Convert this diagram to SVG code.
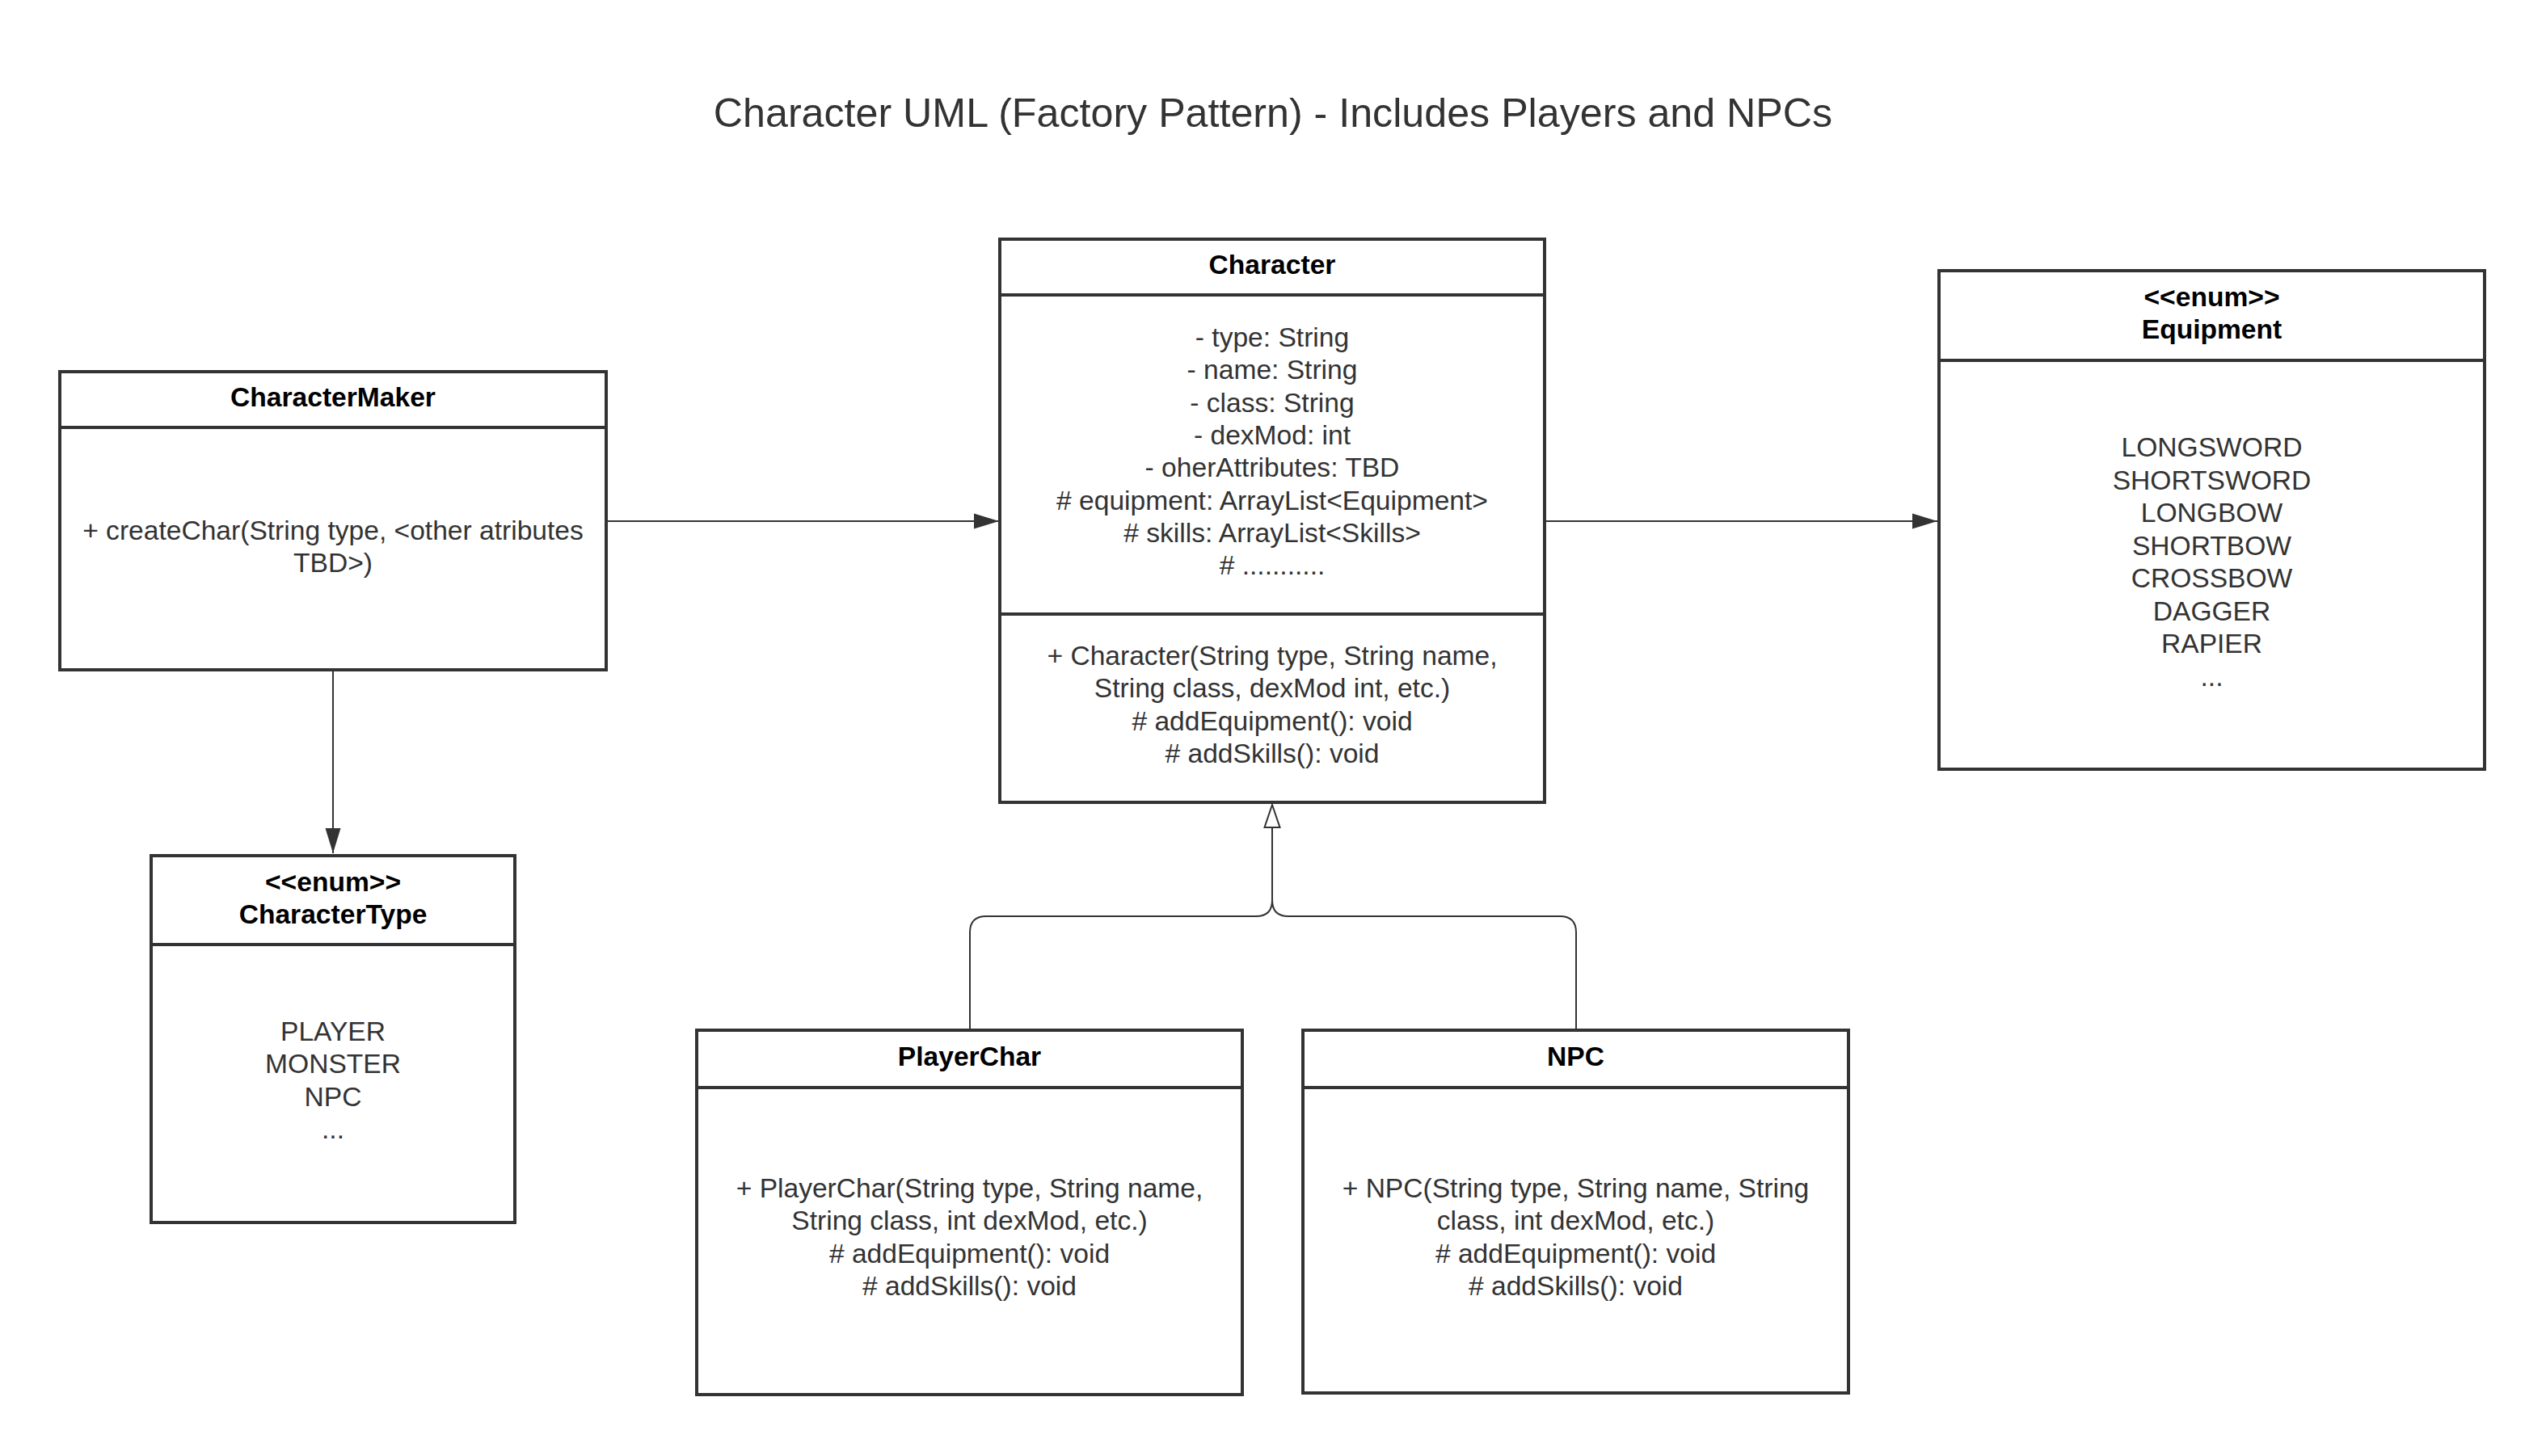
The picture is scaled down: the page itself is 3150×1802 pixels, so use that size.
<svg xmlns="http://www.w3.org/2000/svg" width="3150" height="1802" viewBox="0 0 3150 1802">
<style>
.box{fill:#fff;stroke:#333;stroke-width:4}
.div{stroke:#333;stroke-width:4;fill:none}
.t{font-family:"Liberation Sans",Arial,sans-serif;font-size:33.6px;fill:#333;text-anchor:middle}
.h{font-family:"Liberation Sans",Arial,sans-serif;font-size:33.6px;font-weight:bold;fill:#000;text-anchor:middle}
.title{font-family:"Liberation Sans",Arial,sans-serif;font-size:50.2px;fill:#333;text-anchor:middle}
.c{fill:none;stroke:#333;stroke-width:2}
</style>
<defs>
<marker id="arrow" markerUnits="userSpaceOnUse" markerWidth="32" markerHeight="20" refX="31" refY="9.5" orient="auto" overflow="visible">
<path d="M0,0 L31,9.5 L0,19 z" fill="#333"/>
</marker>
<marker id="tri" markerUnits="userSpaceOnUse" markerWidth="32" markerHeight="22" refX="28" refY="9.5" orient="auto" overflow="visible">
<path d="M0,0 L28,9.5 L0,19 z" fill="#fff" stroke="#333" stroke-width="2"/>
</marker>
</defs>
<rect width="3150" height="1802" fill="#fff"/>
<text class="title" x="1575" y="157">Character UML (Factory Pattern) - Includes Players and NPCs</text>

<g id="connectors">
<line class="c" x1="750" y1="645" x2="1236" y2="645" marker-end="url(#arrow)"/>
<line class="c" x1="1911" y1="645" x2="2397" y2="645" marker-end="url(#arrow)"/>
<line class="c" x1="412" y1="829" x2="412" y2="1056" marker-end="url(#arrow)"/>
<path class="c" d="M1200,1275 L1200,1154 Q1200,1134 1220,1134 L1554,1134 Q1574,1134 1574,1114 L1574,996" marker-end="url(#tri)"/>
<path class="c" d="M1950,1275 L1950,1154 Q1950,1134 1930,1134 L1594,1134 Q1574,1134 1574,1114"/>
</g>

<g id="CharacterMaker">
<rect class="box" x="74" y="460" width="676" height="369"/>
<line class="div" x1="74" y1="529" x2="750" y2="529"/>
<text class="h" x="412" y="503">CharacterMaker</text>
<text class="t" x="412" y="668">+ createChar(String type, &lt;other atributes</text>
<text class="t" x="412" y="708">TBD&gt;)</text>
</g>

<g id="Character">
<rect class="box" x="1237" y="296" width="674" height="697"/>
<line class="div" x1="1237" y1="365" x2="1911" y2="365"/>
<line class="div" x1="1237" y1="760" x2="1911" y2="760"/>
<text class="h" x="1574" y="339">Character</text>
<text class="t" x="1574" y="429">- type: String</text>
<text class="t" x="1574" y="469.3">- name: String</text>
<text class="t" x="1574" y="509.6">- class: String</text>
<text class="t" x="1574" y="549.9">- dexMod: int</text>
<text class="t" x="1574" y="590.2">- oherAttributes: TBD</text>
<text class="t" x="1574" y="630.5"># equipment: ArrayList&lt;Equipment&gt;</text>
<text class="t" x="1574" y="670.8"># skills: ArrayList&lt;Skills&gt;</text>
<text class="t" x="1574" y="711.1"># ...........</text>
<text class="t" x="1574" y="823">+ Character(String type, String name,</text>
<text class="t" x="1574" y="863.3">String class, dexMod int, etc.)</text>
<text class="t" x="1574" y="903.6"># addEquipment(): void</text>
<text class="t" x="1574" y="943.9"># addSkills(): void</text>
</g>

<g id="Equipment">
<rect class="box" x="2399" y="335" width="675" height="617"/>
<line class="div" x1="2399" y1="446" x2="3074" y2="446"/>
<text class="h" x="2736.5" y="379">&lt;&lt;enum&gt;&gt;</text>
<text class="h" x="2736.5" y="419">Equipment</text>
<text class="t" x="2736.5" y="565">LONGSWORD</text>
<text class="t" x="2736.5" y="605.5">SHORTSWORD</text>
<text class="t" x="2736.5" y="646">LONGBOW</text>
<text class="t" x="2736.5" y="686.5">SHORTBOW</text>
<text class="t" x="2736.5" y="727">CROSSBOW</text>
<text class="t" x="2736.5" y="767.5">DAGGER</text>
<text class="t" x="2736.5" y="808">RAPIER</text>
<text class="t" x="2736.5" y="848.5">...</text>
</g>

<g id="CharacterType">
<rect class="box" x="187" y="1059" width="450" height="454"/>
<line class="div" x1="187" y1="1169" x2="637" y2="1169"/>
<text class="h" x="412" y="1103">&lt;&lt;enum&gt;&gt;</text>
<text class="h" x="412" y="1143">CharacterType</text>
<text class="t" x="412" y="1288">PLAYER</text>
<text class="t" x="412" y="1328.3">MONSTER</text>
<text class="t" x="412" y="1368.6">NPC</text>
<text class="t" x="412" y="1408.9">...</text>
</g>

<g id="PlayerChar">
<rect class="box" x="862" y="1275" width="675" height="451"/>
<line class="div" x1="862" y1="1346" x2="1537" y2="1346"/>
<text class="h" x="1199.5" y="1319">PlayerChar</text>
<text class="t" x="1199.5" y="1482">+ PlayerChar(String type, String name,</text>
<text class="t" x="1199.5" y="1522.3">String class, int dexMod, etc.)</text>
<text class="t" x="1199.5" y="1562.6"># addEquipment(): void</text>
<text class="t" x="1199.5" y="1602.9"># addSkills(): void</text>
</g>

<g id="NPC">
<rect class="box" x="1612" y="1275" width="675" height="449"/>
<line class="div" x1="1612" y1="1346" x2="2287" y2="1346"/>
<text class="h" x="1949.5" y="1319">NPC</text>
<text class="t" x="1949.5" y="1482">+ NPC(String type, String name, String</text>
<text class="t" x="1949.5" y="1522.3">class, int dexMod, etc.)</text>
<text class="t" x="1949.5" y="1562.6"># addEquipment(): void</text>
<text class="t" x="1949.5" y="1602.9"># addSkills(): void</text>
</g>
</svg>
